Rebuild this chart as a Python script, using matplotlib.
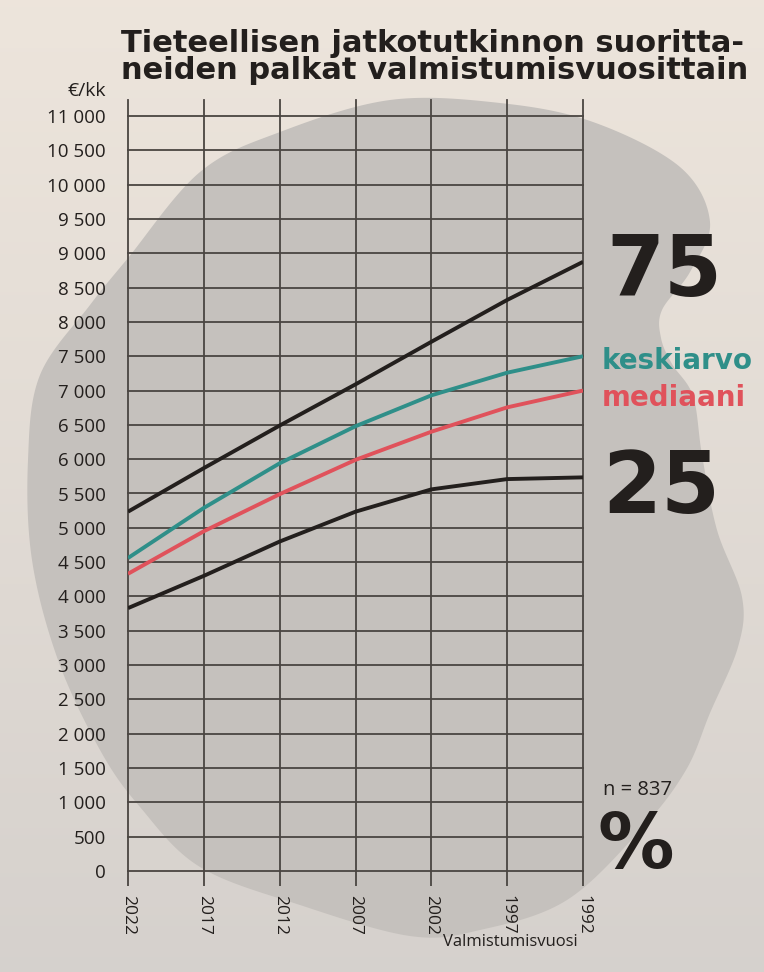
import numpy as np
import matplotlib
matplotlib.use("Agg")
import matplotlib.pyplot as plt
from matplotlib.patches import Polygon

W, H = 764, 972

# data (EUR / month)
years = [2022, 2017, 2012, 2007, 2002, 1997, 1992]
p75 = [5235, 5870, 6490, 7090, 7710, 8320, 8875]
keskiarvo = [4560, 5290, 5940, 6480, 6930, 7260, 7500]
mediaani = [4330, 4950, 5490, 5990, 6400, 6755, 7000]
p25 = [3830, 4300, 4800, 5235, 5560, 5710, 5735]

ytick_vals = list(range(0, 11001, 500))
ytick_labels = [f"{v:,}".replace(",", " ") for v in ytick_vals]

INK = "#231f1d"
GRID = "#4a4541"
TEAL = "#2f8f89"
RED = "#e0525b"
BIG = "DejaVu Sans"

fig = plt.figure(figsize=(W / 100, H / 100), dpi=100)

# paper background + grey blob (pixel coords)
bg = fig.add_axes([0, 0, 1, 1])
bg.set_xlim(0, W)
bg.set_ylim(H, 0)
bg.axis("off")
grad = np.linspace(0, 1, 256)[:, None]
top = np.array([0.930, 0.898, 0.862])
bot = np.array([0.838, 0.820, 0.804])
img = top[None, None, :] * (1 - grad[..., None]) + bot[None, None, :] * grad[..., None]
img = np.repeat(img, 2, axis=1)
bg.imshow(img, extent=[0, W, H, 0], aspect="auto", zorder=0)

blob_pts = np.array([
    (390, 100), (500, 103), (593, 122), (680, 167), (710, 222), (690, 272),
    (662, 310), (661, 338), (672, 364), (693, 396), (702, 455), (717, 530),
    (742, 597), (738, 647), (710, 713), (686, 770), (643, 827), (567, 900),
    (480, 930), (410, 936), (300, 905), (200, 867), (140, 807), (100, 750),
    (58, 660), (32, 560), (28, 460), (40, 375), (90, 305), (128, 258),
    (200, 172), (280, 132),
], dtype=float)


def smooth_closed(pts, n=20):
    out = []
    m = len(pts)
    for i in range(m):
        p0, p1, p2, p3 = pts[i - 1], pts[i], pts[(i + 1) % m], pts[(i + 2) % m]
        for t in np.linspace(0, 1, n, endpoint=False):
            t2, t3 = t * t, t * t * t
            out.append(0.5 * ((2 * p1) + (-p0 + p2) * t
                              + (2 * p0 - 5 * p1 + 4 * p2 - p3) * t2
                              + (-p0 + 3 * p1 - 3 * p2 + p3) * t3))
    return np.array(out)


bg.add_patch(Polygon(smooth_closed(blob_pts), closed=True,
                     facecolor="#c5c1bd", edgecolor="none", zorder=1))

# main chart
x0, x1 = 128 / W, 583 / W
y_bot, y_top = 1 - 871 / H, 1 - 100 / H
ax = fig.add_axes([x0, y_bot, x1 - x0, y_top - y_bot])
ax.patch.set_alpha(0)
ax.set_xlim(2022, 1992)
ax.set_ylim(0, 11000 + 11000 * 16 / 755)
for s in ax.spines.values():
    s.set_visible(False)

ax.set_yticks(ytick_vals)
ax.set_yticklabels(ytick_labels, family="Open Sans", fontsize=13.5, color=INK)
ax.tick_params(axis="y", length=0, pad=16)
ax.set_xticks(years)
ax.set_xticklabels([str(y) for y in years], rotation=270, family="Open Sans",
                   fontsize=12.5, color=INK)
ax.tick_params(axis="x", direction="out", length=11, width=1.3, color=GRID, pad=6)
ax.grid(True, color=GRID, linewidth=1.3)
for gl in ax.get_xgridlines() + ax.get_ygridlines():
    gl.set_clip_on(False)

lw = 2.8
for vals, col in [(p75, INK), (keskiarvo, TEAL), (mediaani, RED), (p25, INK)]:
    ax.plot(years, vals, color=col, lw=lw, solid_capstyle="butt",
            solid_joinstyle="round", zorder=5)

# texts (figure pixel coords via bg axes)
bg.text(121, 57, "Tieteellisen jatkotutkinnon suoritta-\nneiden palkat valmistumisvuosittain",
        family=BIG, fontweight="bold", fontsize=22, color=INK,
        ha="left", va="center", linespacing=0.92, zorder=10)
bg.text(106, 91, "€/kk", family="Open Sans", fontsize=14, color=INK,
        ha="right", va="center", zorder=10)
bg.text(578, 942, "Valmistumisvuosi", family="Open Sans", fontsize=12, color=INK,
        ha="right", va="center", zorder=10)
bg.text(606, 272, "75", family=BIG, fontweight="bold", fontsize=60, color=INK,
        ha="left", va="center", zorder=10)
bg.text(602, 489, "25", family=BIG, fontweight="bold", fontsize=61, color=INK,
        ha="left", va="center", zorder=10)
bg.text(602, 361, "keskiarvo", family=BIG, fontweight="bold", fontsize=20, color=TEAL,
        ha="left", va="center", zorder=10)
bg.text(602, 398, "mediaani", family=BIG, fontweight="bold", fontsize=20, color=RED,
        ha="left", va="center", zorder=10)
bg.text(603, 790, "n = 837", family="Open Sans", fontsize=14.5, color=INK,
        ha="left", va="center", zorder=10)
bg.text(598, 847, "%", family=BIG, fontweight="bold", fontsize=55, color=INK,
        ha="left", va="center", zorder=10)

fig.savefig("out.png", dpi=100)
